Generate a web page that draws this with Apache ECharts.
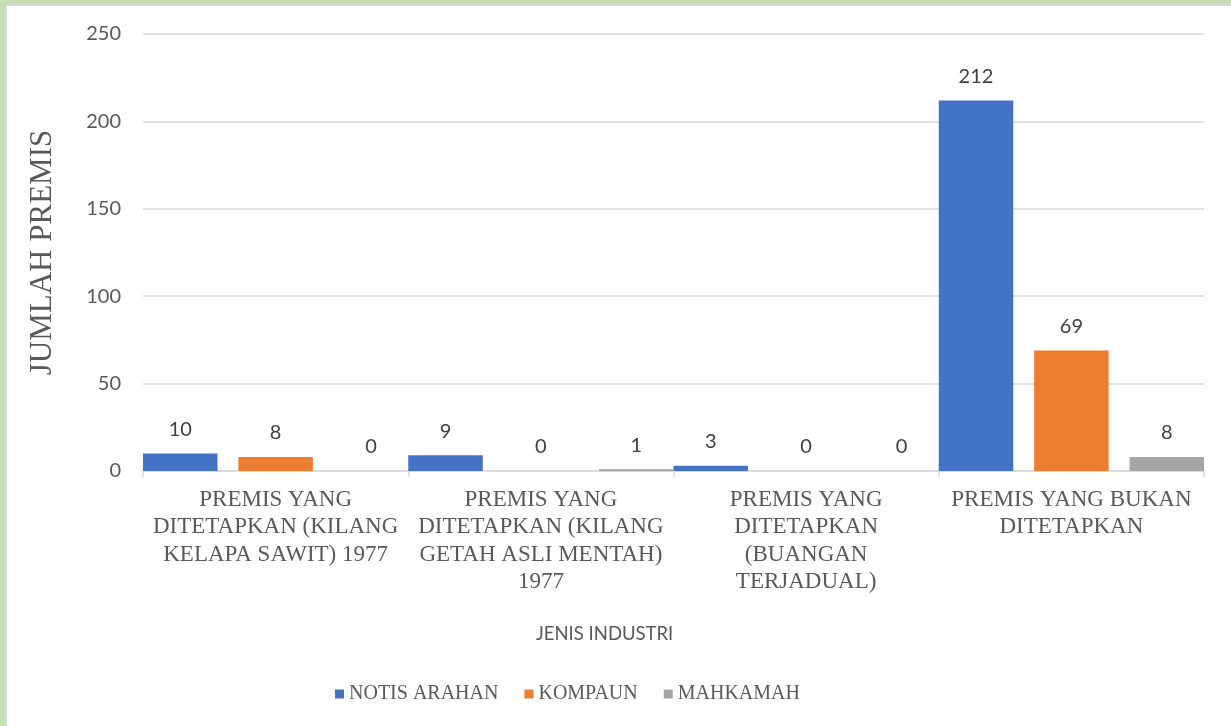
<!DOCTYPE html>
<html>
<head>
<meta charset="utf-8">
<script src="https://cdn.jsdelivr.net/npm/echarts@6/dist/echarts.min.js"></script>
<style>
    body { margin: 0; background: #c6e0b4; }
    #frame { position: absolute; left: 5px; top: 4px; right: 0; bottom: 0; background: #fff;
             border-left: 2px solid #d9d9d9; border-top: 2px solid #d9d9d9; }
    #chart { position: absolute; left: 0; top: 0; width: 1231px; height: 726px; }
</style>
</head>
<body>
<div id="frame"></div>
<div id="chart"></div>
<script>
// data
var categories = [
    'PREMIS YANG\nDITETAPKAN (KILANG\nKELAPA SAWIT) 1977',
    'PREMIS YANG\nDITETAPKAN (KILANG\nGETAH ASLI MENTAH)\n1977',
    'PREMIS YANG\nDITETAPKAN\n(BUANGAN\nTERJADUAL)',
    'PREMIS YANG BUKAN\nDITETAPKAN'
];
var notisArahan = [10, 9, 3, 212];
var kompaun = [8, 0, 0, 69];
var mahkamah = [0, 1, 0, 8];
var yTicks = [0, 50, 100, 150, 200, 250];

var chart = echarts.init(document.getElementById('chart'));

var serif = '"Liberation Serif", "Times New Roman", serif';
var sans = 'Lato, "Open Sans", sans-serif';

function barLabel() {
    return {
        show: true,
        position: 'top',
        distance: 14,
        color: '#404040',
        fontFamily: sans,
        fontSize: 20
    };
}

chart.setOption({
    animation: false,
    title: {
        text: 'JENIS INDUSTRI',
        left: 531,
        top: 620,
        textStyle: {
            color: '#595959',
            fontFamily: sans,
            fontWeight: 'normal',
            fontSize: 18.5
        }
    },
    legend: {
        left: 330,
        top: 679,
        icon: 'rect',
        itemWidth: 9,
        itemHeight: 9,
        itemGap: 26,
        textStyle: {
            color: '#595959',
            fontFamily: serif,
            fontSize: 20
        },
        data: ['NOTIS ARAHAN', 'KOMPAUN', 'MAHKAMAH']
    },
    grid: {
        left: 143,
        right: 27,
        top: 34,
        bottom: 255,
        containLabel: false,
        outerBoundsMode: 'none'
    },
    xAxis: {
        type: 'category',
        data: categories,
        axisLine: { lineStyle: { color: '#d9d9d9', width: 1.5 } },
        axisTick: { show: true, length: 6, lineStyle: { color: '#d9d9d9', width: 1.5 } },
        axisLabel: {
            interval: 0,
            margin: 15,
            color: '#595959',
            fontFamily: serif,
            fontSize: 23,
            lineHeight: 27.5
        }
    },
    yAxis: {
        type: 'value',
        min: yTicks[0],
        max: yTicks[yTicks.length - 1],
        interval: 50,
        name: 'JUMLAH PREMIS',
        nameLocation: 'middle',
        nameRotate: 90,
        nameGap: 85,
        nameTextStyle: {
            color: '#595959',
            fontFamily: serif,
            fontSize: 31
        },
        axisLine: { show: false },
        axisTick: { show: false },
        axisLabel: {
            margin: 22,
            color: '#595959',
            fontFamily: sans,
            fontSize: 20
        },
        splitLine: { lineStyle: { color: '#d9d9d9', width: 1.5 } }
    },
    series: [{
        name: 'NOTIS ARAHAN',
        type: 'bar',
        data: notisArahan,
        barCategoryGap: '0%',
        barGap: '28%',
        itemStyle: { color: '#4472C4' },
        label: barLabel()
    }, {
        name: 'KOMPAUN',
        type: 'bar',
        data: kompaun,
        barCategoryGap: '0%',
        barGap: '28%',
        itemStyle: { color: '#ED7D31' },
        label: barLabel()
    }, {
        name: 'MAHKAMAH',
        type: 'bar',
        data: mahkamah,
        barCategoryGap: '0%',
        barGap: '28%',
        itemStyle: { color: '#A5A5A5' },
        label: barLabel()
    }]
});
</script>
</body>
</html>
